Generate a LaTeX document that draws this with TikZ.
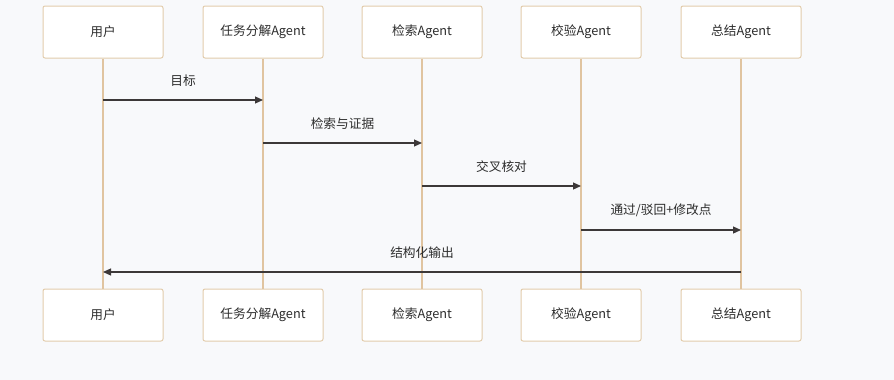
\documentclass[tikz,border=0pt]{standalone}
\usepackage{fontspec}
\setmainfont{Noto Sans CJK SC}
\usetikzlibrary{arrows.meta}
\definecolor{pagebg}{RGB}{248,249,251}
\definecolor{lifetan}{RGB}{224,196,160}
\definecolor{boxline}{RGB}{226,204,172}
\definecolor{msgline}{RGB}{60,56,56}
\definecolor{txtgray}{RGB}{45,45,45}

\begin{document}
\begin{tikzpicture}[
    x=1pt, y=-1pt,
    font=\fontsize{12.7}{14}\selectfont,
    actor/.style={draw=boxline, line width=1pt, rounded corners=2pt, fill=white, text=txtgray, minimum width=120pt, minimum height=52pt, inner sep=0pt},
    lifeline/.style={draw=lifetan, line width=1.5pt},
    msg/.style={draw=msgline, line width=1.2pt, -{Triangle[length=8pt,width=7pt]}},
    msglabel/.style={text=txtgray, inner sep=0pt}
]
\useasboundingbox[fill=pagebg] (0,0) rectangle (894,380);

% participants, top row
\node[actor] (user) at (103, 32) {用户};
\node[actor] (planner) at (263, 32) {任务分解Agent};
\node[actor] (retriever) at (422, 32) {检索Agent};
\node[actor] (verifier) at (581, 32) {校验Agent};
\node[actor] (summarizer) at (741, 32) {总结Agent};

% participants, bottom row
\node[actor] (userbot) at (103, 315) {用户};
\node[actor] (plannerbot) at (263, 315) {任务分解Agent};
\node[actor] (retrieverbot) at (422, 315) {检索Agent};
\node[actor] (verifierbot) at (581, 315) {校验Agent};
\node[actor] (summarizerbot) at (741, 315) {总结Agent};

% lifelines
\draw[lifeline] (user.south) -- (userbot.north);
\draw[lifeline] (planner.south) -- (plannerbot.north);
\draw[lifeline] (retriever.south) -- (retrieverbot.north);
\draw[lifeline] (verifier.south) -- (verifierbot.north);
\draw[lifeline] (summarizer.south) -- (summarizerbot.north);

% message anchors on the lifelines
\coordinate (goalfrom) at (103, 100);
\coordinate (goalto) at (263, 100);
\coordinate (searchfrom) at (263, 143);
\coordinate (searchto) at (422, 143);
\coordinate (checkfrom) at (422, 186);
\coordinate (checkto) at (581, 186);
\coordinate (verdictfrom) at (581, 230);
\coordinate (verdictto) at (741, 230);
\coordinate (outfrom) at (741, 272);
\coordinate (outto) at (103, 272);

% messages
\draw[msg] (goalfrom) -- node[msglabel, above=13pt] (goallabel) {目标} (goalto);
\draw[msg] (searchfrom) -- node[msglabel, above=13pt] (searchlabel) {检索与证据} (searchto);
\draw[msg] (checkfrom) -- node[msglabel, above=13pt] (checklabel) {交叉核对} (checkto);
\draw[msg] (verdictfrom) -- node[msglabel, above=13pt] (verdictlabel) {通过/驳回+修改点} (verdictto);
\draw[msg] (outfrom) -- node[msglabel, above=13pt] (outlabel) {结构化输出} (outto);
\end{tikzpicture}
\end{document}
